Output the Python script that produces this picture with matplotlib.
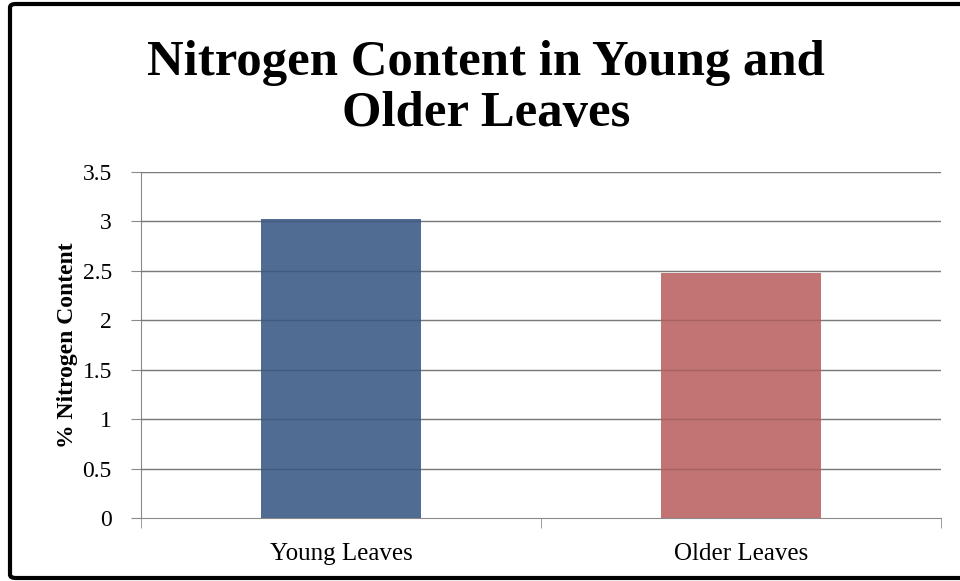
import matplotlib.pyplot as plt
from matplotlib.patches import FancyBboxPatch
import numpy as np

categorias = ['Young Leaves', 'Older Leaves']
nitrogeno = [3.02, 2.48]
colores = ['#4a6790', '#bf6f6e']
yticks = [0, 0.5, 1, 1.5, 2, 2.5, 3, 3.5]
ytick_labels = ['0', '0.5', '1', '1.5', '2', '2.5', '3', '3.5']

serif = ['Liberation Serif', 'DejaVu Serif']

fig = plt.figure(figsize=(9.6, 5.81), dpi=100)
ax = fig.add_axes([0.1469, 0.1084, 0.8331, 0.5956])

x = np.arange(len(categorias))
# barras un poco transparentes, la rejilla se ve a traves
ax.bar(x, nitrogeno, width=0.4, color=colores, alpha=0.97, zorder=3)
ax.set_axisbelow(False)
for y in yticks[1:]:
    ax.axhline(y, color='#8a8a8a', lw=1, zorder=2.5)
    ax.axhline(y, color='black', lw=1, alpha=0.12, zorder=4)

ax.set_xlim(-0.5, 1.5)
ax.set_ylim(0, 3.5)
ax.set_yticks(yticks)
ax.set_yticklabels(ytick_labels, fontfamily=serif, fontsize=17)
ax.set_xticks(x)
ax.set_xticklabels(categorias, fontfamily=serif, fontsize=18)
ax.tick_params(axis='x', length=0, pad=18)
ax.tick_params(axis='y', length=7, color='#8a8a8a', pad=14)
# ticks de separacion en el eje x
ax.set_xticks([-0.5, 0.5, 1.5], minor=True)
ax.tick_params(axis='x', which='minor', length=7, color='#8a8a8a')

for s in ['top', 'right']:
    ax.spines[s].set_visible(False)
for s in ['left', 'bottom']:
    ax.spines[s].set_color('#8a8a8a')

ax.set_ylabel('% Nitrogen Content', fontfamily=serif, fontsize=17,
              fontweight='bold', labelpad=3)

fig.text(0.506, 0.848, 'Nitrogen Content in Young and\nOlder Leaves',
         ha='center', va='center', fontfamily=serif, fontsize=36.5,
         fontweight='bold', linespacing=1.13)

borde = FancyBboxPatch((10 / 960, 3 / 581), 960 / 960, 574 / 581,
                       boxstyle='round,pad=0,rounding_size=0.006',
                       transform=fig.transFigure, fill=False,
                       edgecolor='black', lw=3, clip_on=False)
fig.patches.append(borde)

fig.savefig('out.png', dpi=100)
